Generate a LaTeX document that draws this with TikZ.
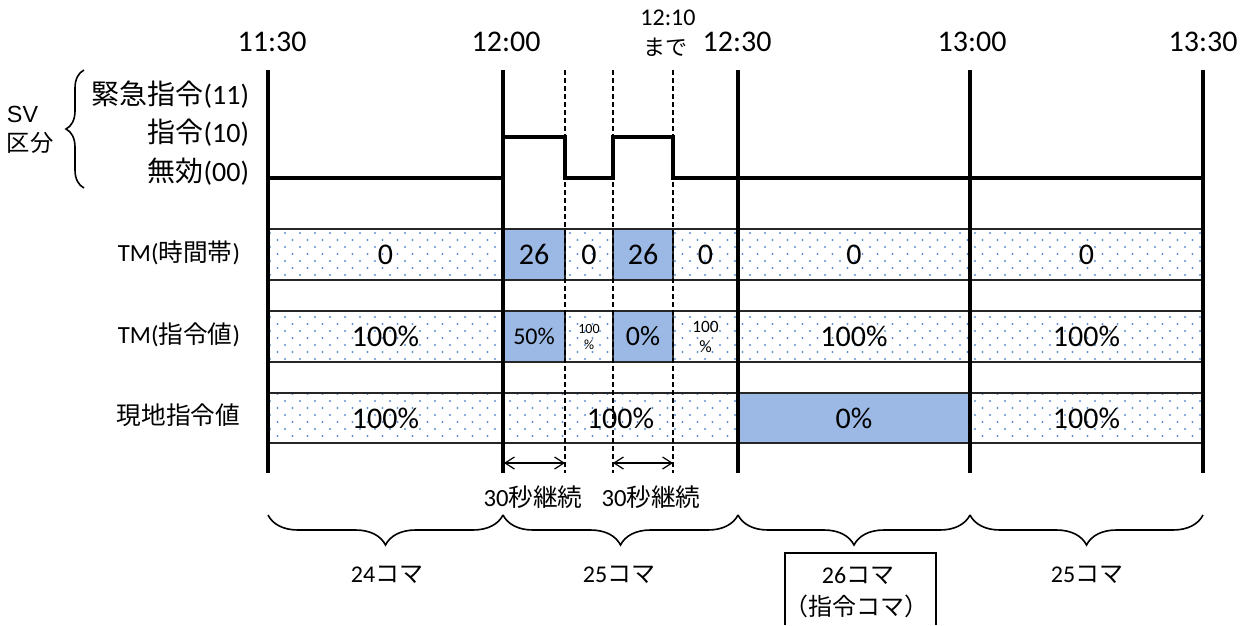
\documentclass[tikz,border=0pt]{standalone}
\usepackage{fontspec}
\setmainfont{Carlito}
\newfontfamily\jp{Noto Sans CJK JP}
\newfontfamily\arl{Liberation Sans}
\usetikzlibrary{patterns,decorations.pathreplacing,arrows.meta}
\newcommand{\jtx}[1]{{\jp #1}}
\newcommand{\fsz}[1]{\fontsize{#1}{1.2\dimexpr#1pt\relax}\selectfont}
\pgfdeclarepatternformonly{sdots}{\pgfpoint{-1.5pt}{-1.5pt}}{\pgfpoint{9.75pt}{9pt}}{\pgfpoint{11.25pt}{10.5pt}}{%
  \pgfpathcircle{\pgfpoint{0pt}{0pt}}{0.85pt}%
  \pgfpathcircle{\pgfpoint{5.625pt}{5.25pt}}{0.85pt}%
  \pgfusepath{fill}}
\definecolor{dotblue}{RGB}{95,145,210}
\definecolor{cellblue}{RGB}{155,185,228}
\tikzset{
  tline/.style={line width=2.8pt},
  sigline/.style={line width=2.6pt},
  cellb/.style={draw=black!85, line width=1.4pt},
  lcell/.style={cellb, pattern=sdots, pattern color=dotblue},
  dcell/.style={cellb, fill=cellblue},
  dline/.style={dash pattern=on 3.5pt off 2.5pt, line width=0.8pt},
  lbl/.style={inner sep=0pt, outer sep=0pt},
  brc/.style={decorate, decoration={brace, amplitude=22.5pt, mirror}, line width=1.2pt},
  svbrc/.style={decorate, decoration={brace, amplitude=13.5pt}, line width=1.2pt},
  dimarr/.style={{Straight Barb[length=7pt,width=9pt]}-{Straight Barb[length=7pt,width=9pt]}, line width=0.9pt},
}
\begin{document}
\begin{tikzpicture}[x=0.75pt,y=-0.75pt]
\useasboundingbox (0,0) rectangle (1252,625);

% ---- rows: cells ----
% row 1
\draw[lcell] (268,229) rectangle (503,280);
\draw[dcell] (503,229) rectangle (565,280);
\draw[lcell] (565,229) rectangle (613,280);
\draw[dcell] (613,229) rectangle (673,280);
\draw[lcell] (673,229) rectangle (738,280);
\draw[lcell] (738,229) rectangle (970,280);
\draw[lcell] (970,229) rectangle (1203,280);
% row 2
\draw[lcell] (268,311) rectangle (503,362);
\draw[dcell] (503,311) rectangle (565,362);
\draw[lcell] (565,311) rectangle (613,362);
\draw[dcell] (613,311) rectangle (673,362);
\draw[lcell] (673,311) rectangle (738,362);
\draw[lcell] (738,311) rectangle (970,362);
\draw[lcell] (970,311) rectangle (1203,362);
% row 3
\draw[lcell] (268,393) rectangle (503,443);
\draw[lcell] (503,393) rectangle (738,443);
\draw[dcell] (738,393) rectangle (970,443);
\draw[lcell] (970,393) rectangle (1203,443);

% ---- dashed lines ----
\draw[dline] (565,70) -- (565,473);
\draw[dline] (613,70) -- (613,473);
\draw[dline] (673,70) -- (673,473);

% ---- time lines ----
\draw[tline] (268,70) -- (268,473);
\draw[tline] (503,70) -- (503,473);
\draw[tline] (738,70) -- (738,473);
\draw[tline] (970,70) -- (970,473);
\draw[tline] (1203,70) -- (1203,473);

% ---- SV signal ----
\draw[sigline] (268,178) -- (503,178) -- (503,137) -- (565,137) -- (565,178)
  -- (613,178) -- (613,137) -- (673,137) -- (673,178) -- (1203,178);

% ---- time labels ----
\node[lbl, font=\fsz{22.5}] (t1130) at (272,42) {11:30};
\node[lbl, font=\fsz{22.5}] (t1200) at (506,42) {12:00};
\node[lbl, font=\fsz{22.5}] (t1230) at (737,42) {12:30};
\node[lbl, font=\fsz{22.5}] (t1300) at (972,42) {13:00};
\node[lbl, font=\fsz{22.5}] (t1330) at (1203,42) {13:30};
\node[lbl, font=\fsz{18}] (t1210) at (668,18) {12:10};
\node[lbl, font=\fsz{16.5}] (made) at (665,47) {\jtx{まで}};

% ---- SV labels ----
\node[lbl, anchor=west, font=\arl\fsz{17.5}] (sv) at (7,114) {SV};
\node[lbl, anchor=west, font=\fsz{17.5}] (kubun) at (7,143) {\jtx{区分}};
\draw[svbrc] (84,188) -- (84,70);
\node[lbl, anchor=east, font=\fsz{21}] (kinkyu) at (249,95) {\jtx{緊急指令}(11)};
\node[lbl, anchor=east, font=\fsz{21}] (shirei) at (249,133) {\jtx{指令}(10)};
\node[lbl, anchor=east, font=\fsz{21}] (muko) at (249,172) {\jtx{無効}(00)};

% ---- row labels ----
\node[lbl, anchor=east, font=\fsz{18.5}] (r1) at (240,253) {TM(\jtx{時間帯})};
\node[lbl, anchor=east, font=\fsz{18.5}] (r2) at (240,335) {TM(\jtx{指令値})};
\node[lbl, anchor=east, font=\fsz{18.5}] (r3) at (240,415) {\jtx{現地指令値}};

% ---- cell texts row 1 ----
\node[lbl, font=\fsz{22.5}] (c11) at (385.5,254.5) {0};
\node[lbl, font=\fsz{22.5}] (c12) at (534,254.5) {26};
\node[lbl, font=\fsz{22.5}] (c13) at (589,254.5) {0};
\node[lbl, font=\fsz{22.5}] (c14) at (643,254.5) {26};
\node[lbl, font=\fsz{22.5}] (c15) at (705.5,254.5) {0};
\node[lbl, font=\fsz{22.5}] (c16) at (854,254.5) {0};
\node[lbl, font=\fsz{22.5}] (c17) at (1086.5,254.5) {0};
% ---- cell texts row 2 ----
\node[lbl, font=\fsz{22.5}] (c21) at (385.5,336) {100\%};
\node[lbl, font=\fsz{18}] (c22) at (534,336) {50\%};
\node[lbl, font=\fsz{10.5}, align=center] (c23) at (589,337) {100\\[-1.2pt]\%};
\node[lbl, font=\fsz{21}] (c24) at (643,336) {0\%};
\node[lbl, font=\fsz{13}, align=center] (c25) at (705.5,337) {100\\[-0.5pt]\%};
\node[lbl, font=\fsz{22.5}] (c26) at (854,336) {100\%};
\node[lbl, font=\fsz{22.5}] (c27) at (1086.5,336) {100\%};
% ---- cell texts row 3 ----
\node[lbl, font=\fsz{22.5}] (c31) at (385.5,418) {100\%};
\node[lbl, font=\fsz{22.5}] (c32) at (620.5,418) {100\%};
\node[lbl, font=\fsz{22.5}] (c33) at (854,418) {0\%};
\node[lbl, font=\fsz{22.5}] (c34) at (1086.5,418) {100\%};

% ---- 30 s arrows ----
\coordinate (a1s) at (504,463);
\coordinate (a1e) at (565,463);
\coordinate (a2s) at (613,463);
\coordinate (a2e) at (673,463);
\draw[dimarr] (a1s) -- (a1e);
\draw[dimarr] (a2s) -- (a2e);
\node[lbl, font=\fsz{18.5}] (k1) at (533,497) {30\jtx{秒継続}};
\node[lbl, font=\fsz{18.5}] (k2) at (651,497) {30\jtx{秒継続}};

% ---- braces ----
\draw[brc] (268,515) -- (503,515);
\draw[brc] (503,515) -- (738,515);
\draw[brc] (738,515) -- (970,515);
\draw[brc] (970,515) -- (1203,515);
\node[lbl, font=\fsz{18}] (k24) at (387,575) {24\jtx{コマ}};
\node[lbl, font=\fsz{18}] (k25a) at (619,575) {25\jtx{コマ}};
\node[lbl, font=\fsz{18}] (k25b) at (1087,575) {25\jtx{コマ}};
\draw[line width=1.2pt] (785,625) |- (936,553) -- (936,625);
\node[lbl, font=\fsz{18}] (k26) at (858,576) {26\jtx{コマ}};
\node[lbl, font=\fsz{18}] (k26b) at (856,606) {\jtx{（指令コマ）}};
\end{tikzpicture}
\end{document}
